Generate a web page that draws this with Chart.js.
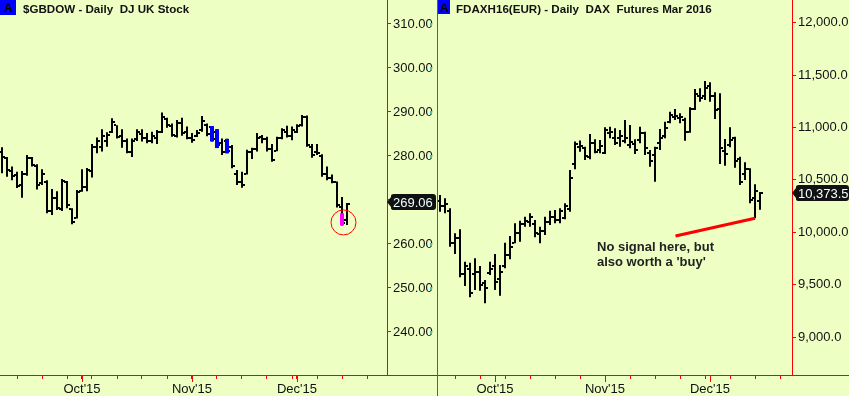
<!DOCTYPE html>
<html><head><meta charset="utf-8">
<script src="https://cdn.jsdelivr.net/npm/chart.js@4.4.0/dist/chart.umd.min.js"></script>
<style>
html,body{margin:0;padding:0;background:#EEFFC4;overflow:hidden}
#wrap{position:relative;width:849px;height:396px;background:#EEFFC4}
canvas{position:absolute;top:0}
#c1{left:0;width:437px;height:396px}
#c2{left:437px;width:412px;height:396px}
</style></head><body>
<div id="wrap"><canvas id="c1" width="437" height="396"></canvas><canvas id="c2" width="412" height="396"></canvas></div>
<script>
// ---------------- DATA: $GBDOW (DJ UK Stock) ----------------
const gbDates = ['2015-09-09','2015-09-10','2015-09-11','2015-09-14','2015-09-15','2015-09-16','2015-09-17','2015-09-18','2015-09-21','2015-09-22','2015-09-23','2015-09-24','2015-09-25','2015-09-28','2015-09-29','2015-09-30',
'2015-10-01','2015-10-02','2015-10-05','2015-10-06','2015-10-07','2015-10-08','2015-10-09','2015-10-12','2015-10-13','2015-10-14','2015-10-15','2015-10-16','2015-10-19','2015-10-20','2015-10-21','2015-10-22','2015-10-23','2015-10-26','2015-10-27','2015-10-28','2015-10-29','2015-10-30',
'2015-11-02','2015-11-03','2015-11-04','2015-11-05','2015-11-06','2015-11-09','2015-11-10','2015-11-11','2015-11-12','2015-11-13','2015-11-16','2015-11-17','2015-11-18','2015-11-19','2015-11-20','2015-11-23','2015-11-24','2015-11-25','2015-11-26','2015-11-27','2015-11-30',
'2015-12-01','2015-12-02','2015-12-03','2015-12-04','2015-12-07','2015-12-08','2015-12-09','2015-12-10','2015-12-11','2015-12-14','2015-12-15'];
const gbOpen = [281.0,279.5,276.5,275.6,273.5,276.0,279.5,277.8,273.8,274.0,267.5,270.5,268.0,274.0,268.0,265.9,272.0,273.0,276.5,282.0,282.0,283.5,285.5,287.0,284.5,283.5,281.0,283.8,285.0,284.2,283.5,284.0,285.5,288.5,286.8,284.6,287.5,285.5,284.0,284.5,285.8,287.0,286.5,285.5,283.0,283.5,282.0,276.0,274.0,275.8,281.0,281.5,284.3,283.8,281.5,281.2,284.0,285.5,284.5,285.5,287.0,288.8,282.0,281.0,280.0,276.0,275.0,274.0,268.5,265.5];
const gbHigh = [282.0,279.8,277.6,276.4,276.6,280.2,279.8,278.1,277.0,274.5,272.5,272.0,274.8,274.3,268.1,272.3,277.0,277.3,282.7,284.2,286.1,285.4,288.6,287.0,286.1,284.0,284.0,286.1,286.1,285.2,285.5,285.9,289.9,288.7,287.4,288.2,288.7,286.7,285.2,285.9,289.1,287.4,286.8,286.1,284.0,283.9,282.5,276.8,276.4,281.4,281.9,285.2,284.8,284.4,282.7,284.4,286.3,286.9,286.7,287.2,289.3,289.2,282.7,282.7,280.4,277.6,275.8,274.2,270.7,269.3];
const gbLow = [276.1,275.3,274.5,272.7,270.5,275.5,277.6,272.4,273.4,267.0,266.6,267.7,267.5,268.1,264.5,265.8,271.9,272.0,275.1,280.6,281.0,282.1,285.2,284.0,281.9,280.6,279.8,283.4,283.3,282.9,282.9,282.7,285.2,286.4,284.4,284.2,284.6,283.8,283.0,284.3,285.5,284.5,283.3,281.8,280.2,280.6,277.2,273.4,272.8,275.8,279.3,281.0,282.9,281.0,278.7,281.1,283.8,284.2,283.6,285.2,286.7,282.1,279.6,280.2,275.3,274.5,273.8,268.3,264.2,264.3];
const gbClose = [279.7,276.8,275.5,273.2,275.8,279.5,278.0,273.5,275.8,267.5,270.5,268.2,274.3,268.8,264.9,271.8,273.0,276.8,282.0,283.4,284.5,284.8,287.8,284.3,283.5,281.0,283.5,285.5,284.0,283.5,284.5,285.5,288.8,287.0,284.8,287.5,285.2,284.0,283.6,285.2,288.0,285.0,283.8,282.5,281.0,281.2,277.8,274.0,273.5,281.0,281.5,284.0,283.8,281.5,279.2,284.0,285.9,284.6,286.0,286.9,288.8,282.6,280.2,280.6,275.9,275.0,274.2,268.8,264.8,269.06];
const gbSignalIdx = [42,43,45];          // blue painted bars
const gbPinkIdx = 68;                    // magenta painted bar
const gbPinkRange = [264.2,267.0];
const gbCircle = {idx:68.3, value:264.9};
const gbYTicks = [240,250,260,270,280,290,300,310];

// ---------------- DATA: FDAXH16 (DAX Futures Mar 2016) ----------------
const daxDates = ['2015-09-16','2015-09-17','2015-09-18','2015-09-21','2015-09-22','2015-09-23','2015-09-24','2015-09-25','2015-09-28','2015-09-29','2015-09-30',
'2015-10-01','2015-10-02','2015-10-05','2015-10-06','2015-10-07','2015-10-08','2015-10-09','2015-10-12','2015-10-13','2015-10-14','2015-10-15','2015-10-16','2015-10-19','2015-10-20','2015-10-21','2015-10-22','2015-10-23','2015-10-26','2015-10-27','2015-10-28','2015-10-29','2015-10-30',
'2015-11-02','2015-11-03','2015-11-04','2015-11-05','2015-11-06','2015-11-09','2015-11-10','2015-11-11','2015-11-12','2015-11-13','2015-11-16','2015-11-17','2015-11-18','2015-11-19','2015-11-20','2015-11-23','2015-11-24','2015-11-25','2015-11-26','2015-11-27','2015-11-30',
'2015-12-01','2015-12-02','2015-12-03','2015-12-04','2015-12-07','2015-12-08','2015-12-09','2015-12-10','2015-12-11','2015-12-14','2015-12-15'];
const daxOpen = [10300,10250,10200,9900,9950,9600,9650,9600,9620,9520,9610,9680,9550,9680,9780,9900,9990,10080,10100,10080,9980,10010,10100,10150,10120,10140,10220,10650,10810,10800,10720,10850,10790,10760,10950,10900,10900,10870,10830,10840,10880,10950,10760,10740,10850,10920,11050,11100,11090,11070,10960,11180,11300,11300,11400,11300,11180,10780,10830,10900,10700,10560,10600,10330,10300];
const daxHigh = [10356,10324,10229,9990,10029,9719,9710,9752,9679,9545,9719,9793,9688,9901,9965,10086,10111,10149,10181,10117,10053,10149,10206,10213,10229,10277,10594,10866,10876,10817,10938,10887,10881,11002,11008,10992,10976,11072,11024,10887,11008,10960,10785,10817,10986,11055,11151,11177,11135,11094,11193,11367,11374,11444,11432,11336,11326,10890,11002,10912,10721,10668,10611,10458,10385];
const daxLow = [10197,10181,9863,9793,9571,9488,9380,9449,9443,9322,9593,9449,9395,9657,9742,9895,9910,10053,10053,9952,9895,9974,10070,10086,10086,10124,10197,10601,10769,10690,10697,10754,10754,10747,10897,10832,10817,10849,10802,10747,10849,10738,10626,10483,10785,10897,11040,11072,11040,10874,10950,11167,11246,11263,11246,11081,10652,10635,10811,10616,10451,10499,10277,10134,10215];
const daxClose = [10250,10270,9900,9950,9600,9680,9420,9620,9500,9470,9650,9530,9620,9780,9860,9990,10080,10110,10150,9990,10010,10100,10150,10120,10200,10250,10520,10840,10820,10730,10850,10770,10820,10980,10960,10850,10920,10900,10860,10790,10950,10800,10680,10800,10900,11000,11120,11110,11100,10960,11180,11320,11280,11380,11300,11170,10800,10750,10880,10680,10480,10600,10310,10390,10373.5];
const daxYTicks = [9000,9500,10000,10500,11000,11500,12000];
const daxArrowFrom = {idx:47.1, value:9965};
const daxArrowToIdx = 63;
const daxNote = ['No signal here, but', "also worth a 'buy'"];

// ---------------- RENDERING ----------------
const FONT = "'Liberation Sans', Arial, Helvetica, sans-serif";
Chart.defaults.font.family = FONT;
Chart.defaults.font.size = 13;
Chart.defaults.color = '#111';

function makeTick(side){
  const c = document.createElement('canvas'); c.width = 6; c.height = 2;
  const g = c.getContext('2d'); g.fillStyle = '#000';
  g.fillRect(side === 'L' ? 0 : 4, 0, 2, 2);
  return c;
}
const openImg = makeTick('L'), closeImg = makeTick('R');

function buildXTicks(dates, max){
  const MON = ['Jan','Feb','Mar','Apr','May','Jun','Jul','Aug','Sep','Oct','Nov','Dec'];
  const ticks = [], labels = {};
  let lastMon = -1;
  dates.forEach((d, i) => {
    const dt = new Date(d + 'T00:00:00Z');
    const isMon = dt.getUTCDay() === 1;
    const newMonth = i > 0 && dates[i-1].slice(5,7) !== d.slice(5,7);
    if (isMon) { ticks.push(i); lastMon = i; }
    if (newMonth) { if (!isMon) ticks.push(i); labels[i] = MON[dt.getUTCMonth()] + "'" + d.slice(2,4); }
  });
  for (let t = lastMon + 5; t <= max; t += 5) ticks.push(t);
  ticks.sort((a,b) => a - b);
  return {ticks, labels};
}

function fmtThousands(v){
  const s = v.toFixed(1); const parts = s.split('.');
  return parts[0].replace(/\B(?=(\d{3})+(?!\d))/g, ',') + '.' + parts[1];
}

function makeChart(id, p){
  const xt = buildXTicks(p.dates, p.xMax);
  const hl = p.high.map((h, i) => ({x:i, y:[p.low[i], h]}));
  const op = p.open.map((v, i) => ({x:i, y:v}));
  const cl = p.close.map((v, i) => ({x:i, y:v}));
  const datasets = [
    {type:'bar', data:hl, backgroundColor:'#000', barThickness:2, grouped:false, order:10, inflateAmount:0, borderWidth:0},
    {type:'line', data:op, showLine:false, pointStyle:openImg, pointRadius:1, order:9},
    {type:'line', data:cl, showLine:false, pointStyle:closeImg, pointRadius:1, order:9}
  ].concat(p.extra);

  const decor = {
    id:'decor',
    afterDraw(chart){
      const ctx = chart.ctx, a = chart.chartArea, xs = chart.scales.x, ys = chart.scales.y;
      ctx.save();
      ctx.strokeStyle = '#FF0000'; ctx.lineWidth = 1;
      // axis frame lines (price axis + full-width bottom line)
      ctx.beginPath(); ctx.moveTo(Math.round(a.right) + 0.5, 0); ctx.lineTo(Math.round(a.right) + 0.5, a.bottom); ctx.stroke();
      ctx.beginPath(); ctx.moveTo(a.left, a.bottom + 0.5); ctx.lineTo(chart.width, a.bottom + 0.5); ctx.stroke();
      Object.keys(xt.labels).forEach(k => {
        const px = Math.round(xs.getPixelForValue(+k)) + 0.5;
        ctx.beginPath(); ctx.moveTo(px, a.bottom); ctx.lineTo(px, a.bottom + 7); ctx.stroke();
      });
      if (p.cyanMarks) {
        ctx.fillStyle = '#33C8C8';
        p.yTicks.forEach(v => { const py = Math.round(ys.getPixelForValue(v)); ctx.fillRect(chart.width - 7, py - 1, 2, 3); });
      }
      if (p.divider) { ctx.fillStyle = '#5E5E5E'; ctx.fillRect(0, 0, 1, chart.height); }
      ctx.fillStyle = '#0000FF'; ctx.fillRect(p.boxX, 0, p.boxW, p.boxH);
      ctx.fillStyle = '#000'; ctx.font = 'bold 12px ' + FONT; ctx.textBaseline = 'alphabetic'; ctx.textAlign = 'center';
      ctx.fillText('A', p.boxX + p.boxW / 2, 12);
      ctx.textAlign = 'left'; ctx.fillStyle = '#111'; ctx.font = 'bold 11.6px ' + FONT;
      ctx.fillText(p.title, p.titleX, 13);
      if (p.note) {
        ctx.font = 'bold 13px ' + FONT; ctx.fillStyle = '#222';
        p.note.forEach((t, i) => ctx.fillText(t, p.noteX, p.noteY + i * 15));
      }
      const last = p.close[p.close.length - 1];
      const py = Math.round(ys.getPixelForValue(last)) + p.lblShift;
      const x0 = a.right, x1 = chart.width - p.lblRightGap;
      ctx.fillStyle = '#111';
      ctx.beginPath();
      ctx.moveTo(x0, py);
      ctx.lineTo(x0 + 4, py - 5);
      ctx.lineTo(x0 + 4, py - 6);
      ctx.quadraticCurveTo(x0 + 4, py - 8, x0 + 7, py - 8);
      ctx.lineTo(x1 - 3, py - 8);
      ctx.quadraticCurveTo(x1, py - 8, x1, py - 5);
      ctx.lineTo(x1, py + 5);
      ctx.quadraticCurveTo(x1, py + 8, x1 - 3, py + 8);
      ctx.lineTo(x0 + 7, py + 8);
      ctx.quadraticCurveTo(x0 + 4, py + 8, x0 + 4, py + 6);
      ctx.lineTo(x0 + 4, py + 5);
      ctx.closePath(); ctx.fill();
      ctx.fillStyle = '#F0FFFF'; ctx.font = '13px ' + FONT; ctx.textBaseline = 'middle'; ctx.textAlign = 'left';
      ctx.fillText(p.yFmt(last), x0 + 6, py + 1);
      ctx.restore();
    }
  };

  return new Chart(document.getElementById(id), {
    type:'bar',
    data:{datasets},
    options:{
      responsive:false, animation:false, devicePixelRatio:1, events:[],
      layout:{padding:0, autoPadding:false},
      plugins:{legend:{display:false}, tooltip:{enabled:false}, title:{display:false}},
      scales:{
        x:{type:'linear', min:p.xMin, max:p.xMax, offset:false,
           grid:{display:true, drawOnChartArea:false, drawTicks:true, tickLength:4, color:'#FF0000', offset:false},
           border:{display:true, color:'#FF0000', width:1},
           ticks:{autoSkip:false, maxRotation:0, minRotation:0, padding:3, color:'#111', font:{size:13},
                  callback:(v) => xt.labels[v] || ''},
           afterBuildTicks:(s) => { s.ticks = xt.ticks.map(v => ({value:v})); },
           afterFit:(s) => { s.height = 21; s.paddingLeft = 0; s.paddingRight = 0; }
        },
        y:{type:'linear', position:'right', min:p.yMin, max:p.yMax,
           grid:{display:true, drawOnChartArea:false, drawTicks:true, tickLength:4, color:'#FF0000'},
           border:{display:true, color:'#FF0000', width:1},
           ticks:{autoSkip:false, padding:2, color:'#111', font:{size:13}, callback:(v) => p.yFmt(v)},
           afterBuildTicks:(s) => { s.ticks = p.yTicks.map(v => ({value:v})); },
           afterFit:(s) => { s.width = p.axisW; s.paddingTop = 0; s.paddingBottom = 0; }
        }
      }
    },
    plugins:[decor]
  });
}

makeChart('c1', {
  dates:gbDates, open:gbOpen, high:gbHigh, low:gbLow, close:gbClose,
  xMin:-0.4, xMax:77, yMin:230.227, yMax:315.4545, yTicks:gbYTicks, axisW:50,
  yFmt:(v) => v.toFixed(2),
  title:'$GBDOW - Daily  DJ UK Stock', titleX:23, boxX:0, boxW:16, boxH:15,
  cyanMarks:true, divider:false, lblRightGap:1, lblShift:-2,
  extra:[
    {type:'bar', data:gbSignalIdx.map(i => ({x:i, y:[gbLow[i], gbHigh[i]]})), backgroundColor:'#0000FF', barThickness:4, grouped:false, order:5, inflateAmount:0, borderWidth:0},
    {type:'bar', data:[{x:gbPinkIdx, y:gbPinkRange}], backgroundColor:'#FF00FF', barThickness:4, grouped:false, order:4, inflateAmount:0, borderWidth:0},
    {type:'line', data:[{x:gbCircle.idx, y:gbCircle.value}], showLine:false, pointStyle:'circle', pointRadius:12.5,
     pointBorderColor:'#FF0000', pointBackgroundColor:'rgba(0,0,0,0)', pointBorderWidth:1, order:1}
  ]
});

makeChart('c2', {
  dates:daxDates, open:daxOpen, high:daxHigh, low:daxLow, close:daxClose,
  xMin:-0.6, xMax:70.4, yMin:8638.4, yMax:12216.6, yTicks:daxYTicks, axisW:57,
  yFmt:fmtThousands,
  title:'FDAXH16(EUR) - Daily  DAX  Futures Mar 2016', titleX:19, boxX:1, boxW:12, boxH:14,
  cyanMarks:false, divider:true, lblRightGap:0, lblShift:0,
  note:daxNote, noteX:160, noteY:251,
  extra:[
    {type:'line', data:[{x:daxArrowFrom.idx, y:daxArrowFrom.value}, {x:daxArrowToIdx, y:daxLow[daxArrowToIdx]}],
     borderColor:'#FF0000', borderWidth:3, pointRadius:0, order:2}
  ]
});
</script>
</body></html>
